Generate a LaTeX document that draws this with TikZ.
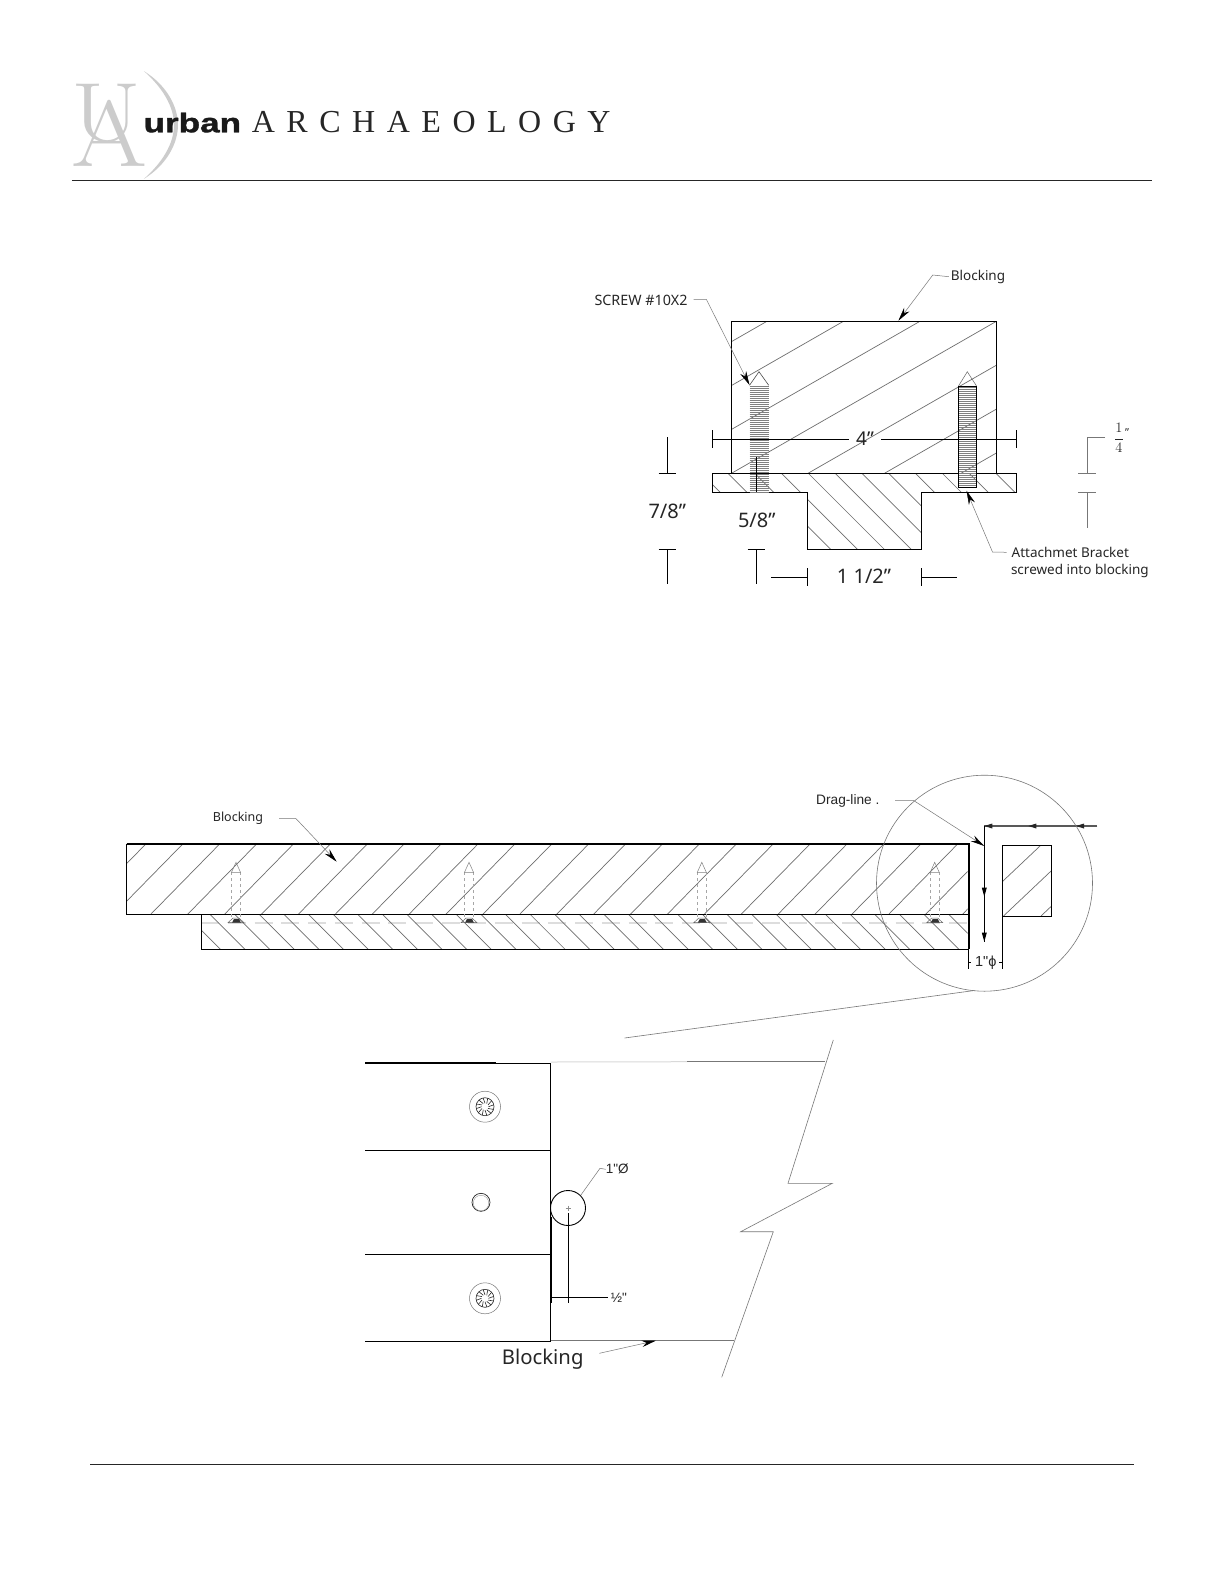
\documentclass[tikz,border=0pt]{standalone}
\usepackage{fontspec}
\setmainfont{Noto Sans}
\newfontfamily\serifface{Liberation Serif}
\newfontfamily\arialface{Liberation Sans}
\newfontfamily\logoface{Latin Modern Roman}
\usetikzlibrary{arrows.meta}
\definecolor{logogray}{HTML}{CCCCCC}
\definecolor{hatchgray}{HTML}{6E6E6E}
\definecolor{leadgray}{HTML}{777777}
\definecolor{dashgray}{HTML}{DDDDDD}
\tikzset{
  edge/.style={line width=0.9pt,black},
  thick edge/.style={line width=2pt,black},
  hatch/.style={line width=0.7pt,hatchgray},
  dim/.style={line width=0.8pt,black},
  leader/.style={line width=0.5pt,leadgray},
  thin gray/.style={line width=0.6pt,leadgray},
  tipleader/.style={leader,-{Stealth[length=14pt,width=6.5pt,color=black]}},
  label/.style={inner sep=0pt,outer sep=0pt,font=\fontsize{13.5}{16}\selectfont,text=black!85},
  bigdim/.style={inner sep=0pt,font=\fontsize{20}{22}\selectfont,text=black!85},
}
\begin{document}
\begin{tikzpicture}[x=1pt,y=-1pt]
\useasboundingbox (0,0) rectangle (1225,1585);
\fill[white] (0,0) rectangle (1225,1585);
% ---------- logo
\node[inner sep=0pt,anchor=base,xscale=1.2,text=logogray,font=\logoface\fontsize{84}{84}\selectfont] (logoU) at (106.7,141) {U};
\node[inner sep=0pt,anchor=base,xscale=1.17,text=logogray,font=\logoface\fontsize{93.7}{94}\selectfont] (logoA) at (109,166.7) {A};
\fill[logogray] (143.8,71) .. controls (168,86) and (178,108) .. (178,125) .. controls (178,142) and (168,164) .. (143.8,179)
  .. controls (163,162) and (174,143) .. (174,125) .. controls (174,107) and (163,88) .. cycle;
\node[inner sep=0pt,anchor=base west,xscale=1.3,font=\arialface\bfseries\fontsize{27}{27}\selectfont\addfontfeature{FakeBold=1.2},text=black!90] (urban) at (143.3,132.3) {urban};
\node[inner sep=0pt,anchor=base west,font=\serifface\fontsize{32}{32}\selectfont\addfontfeature{LetterSpace=36},text=black!85] (arch) at (251.7,132.7) {ARCHAEOLOGY};
\draw[line width=1pt,black!85] (71.8,180) coordinate (ruleA) -- (1152,180) coordinate (ruleB);
\draw[line width=1pt,black!85] (90,1464.5) coordinate (ruleC) -- (1134,1464.5) coordinate (ruleD);
% ---------- top section
\begin{scope}
 \clip (731.5,321.3) rectangle (996.4,473.3);
 \foreach \k in {-3,...,3} \draw[hatch] ({731.5+76.5*\k},473.3) -- ++(264.9,-152);
\end{scope}
\draw[edge] (731.5,473.3) -- (731.5,321.3) -- (996.4,321.3) -- (996.4,473.3);
\begin{scope}
 \clip (712.4,473.3) -- (1016.3,473.3) -- (1016.3,492.3) -- (921.4,492.3) -- (921.4,549.3) -- (807.3,549.3) -- (807.3,492.3) -- (712.4,492.3) -- cycle;
 \foreach \k in {-5,...,8} \draw[hatch] ({808.3+26.8*\k},473.3) -- ++(76,76);
\end{scope}
\draw[edge] (712.4,473.3) -- (1016.3,473.3) -- (1016.3,492.3) -- (921.4,492.3) -- (921.4,549.3) -- (807.3,549.3) -- (807.3,492.3) -- (712.4,492.3) -- cycle;
% screws top
\foreach \y in {386,388,...,492} \draw[line width=1pt,black!50] (749.5,\y) -- (768.7,\y);
\foreach \y in {387,389,...,486} \draw[line width=1pt,black!50] (958.5,\y) -- (976.5,\y);
\draw[line width=0.6pt,black!70] (749.5,385.3) -- (759,371.7) -- (768.7,385.3);
\draw[line width=0.5pt,black!60] (958.5,386) -- (967.3,371.7) -- (976.5,386);
\draw[line width=0.9pt,black] (958.5,386) rectangle (976.5,487.3);
% 4 inch dim
\node[bigdim,font=\fontsize{19}{22}\selectfont] (dimfour) at (865,439) {4"};
\coordinate (fourL) at (712.4,439.3);
\coordinate (fourR) at (1016.3,439.3);
\coordinate (fourGapL) at (848.7,439.3);
\coordinate (fourGapR) at (881.2,439.3);
\draw[dim] (fourL) -- (fourGapL);
\draw[dim] (fourGapR) -- (fourR);
\draw[dim] (712.4,430) -- (712.4,448);
\draw[dim] (1016.3,430) -- (1016.3,448);
% 7/8
\node[bigdim] (seven) at (667.3,511) {7/8"};
\draw[dim] (667.3,437.3) -- (667.3,473.3);
\draw[dim] (658.5,473.3) -- (676,473.3);
\draw[dim] (658.5,549.3) -- (676,549.3);
\draw[dim] (667.3,549.3) -- (667.3,584.3);
% 5/8
\node[bigdim] (five) at (756.8,520) {5/8"};
\draw[dim] (756.4,456.7) -- (756.4,492.3);
\draw[dim] (747.6,549.3) -- (765.2,549.3);
\draw[dim] (756.4,549.3) -- (756.4,584.3);
% 1 1/2
\node[bigdim] (onehalf) at (864,576.5) {1 1/2"};
\draw[dim] (807.3,568.3) -- (807.3,586);
\draw[dim] (771.3,577.3) -- (807.3,577.3);
\draw[dim] (921.4,568.3) -- (921.4,586);
\draw[dim] (921.4,577.3) -- (956.6,577.3);
% 1/4
\node[inner sep=0pt,text=black!85,font=\fontsize{15}{15}\selectfont] (quarter) at (1119,438) {$\displaystyle\frac{1}{4}$};
\node[inner sep=0pt,text=black!85,font=\fontsize{11}{11}\selectfont] (quartermark) at (1127,433) {"};
\draw[thin gray] (1105,437.3) -- (1087,437.3) -- (1087,473.3);
\draw[thin gray] (1078.3,473.3) -- (1095.9,473.3);
\draw[thin gray] (1078.3,492.3) -- (1095.9,492.3);
\draw[thin gray] (1087,492.3) -- (1087,527.7);
% labels top
\node[label,anchor=center] (blockTop) at (978,276.7) {Blocking};
\coordinate (blockTopTip) at (898.4,320.7);
\draw[tipleader] ([xshift=-2pt]blockTop.west) -- (932.8,275) -- (blockTopTip);
\node[label,anchor=east,font=\fontsize{14.3}{16}\selectfont] (screwlabel) at (687.5,300.7) {SCREW \#10X2};
\coordinate (screwTip) at (749.5,385);
\draw[tipleader] (693.7,299.3) -- (706.3,299.3) -- (screwTip);
\node[label,anchor=west] (attachA) at (1011.7,552.3) {Attachmet Bracket};
\node[label,anchor=west] (attachB) at (1011,570.7) {screwed into blocking};
\coordinate (attachTip) at (966.5,490.7);
\draw[tipleader] (attachA.west) ++(-5,0) -- (992.5,552) -- (attachTip);
% ---------- middle section
\begin{scope}
 \clip (126.7,843.7) rectangle (967.7,914.3);
 \foreach \k in {-3,...,22} \draw[hatch] ({150.7+36.9*\k},914.3) -- ++(70.6,-72);
\end{scope}
\draw[line width=2pt,dashgray,dash pattern=on 18pt off 8.7pt] (201.3,922.7) -- (967.7,922.7);
\begin{scope}
 \clip (201.3,914.3) rectangle (967.7,949.3);
 \foreach \k in {-1,...,31} \draw[hatch] ({210+24.62*\k},914.3) -- ++(36,36);
\end{scope}
\draw[edge] (126.7,843.7) -- (126.7,914.3) -- (967.7,914.3);
\draw[edge] (201.3,914.3) -- (201.3,949.3) -- (967.7,949.3);
\draw[thick edge] (126.7,843.7) -- (968.5,843.7) -- (968.5,949.3);
\foreach \sx in {236,469,701.8,934.7}{
 \draw[line width=0.6pt,black!35,dashed] (\sx-4.5,872.3) -- (\sx-4.5,920);
 \draw[line width=0.6pt,black!35,dashed] (\sx+4.5,872.3) -- (\sx+4.5,920);
 \draw[line width=0.5pt,black!50] (\sx-4.5,872.3) -- (\sx,862.3) -- (\sx+4.5,872.3) -- cycle;
 \draw[line width=0.5pt,black!60] (\sx-8,922.7) -- (\sx-3,918) -- (\sx+3,918) -- (\sx+8,922.7) -- cycle;
 \fill[black!80] (\sx-4,922.7) -- (\sx-2,919) -- (\sx+3,919) -- (\sx+5,922.7) -- cycle;
}
% small square
\begin{scope}
 \clip (1002.3,845.3) rectangle (1051.3,916);
 \foreach \k in {-1,0,1} \draw[hatch] ({1003.5+37.5*\k},916) -- ++(74,-70);
\end{scope}
\draw[edge] (1002.3,845.3) rectangle (1051.3,916);
% drag lines
\coordinate (hA) at (1097.3,826);
\coordinate (corner) at (984.3,826);
\coordinate (vEnd) at (984.3,941.7);
\draw[line width=1.5pt,black!65] (hA) -- (corner);
\draw[dim] (corner) -- (vEnd);
\foreach \ax in {1076,1028.3,984.3}
  \fill[black!85] (\ax,826) -- ++(8,-2.5) -- ++(0,5) -- cycle;
\foreach \ay in {896.7,941.7}
  \fill[black] (984.3,\ay) -- ++(-2.5,-9) -- ++(5,0) -- cycle;
\node[inner sep=0pt,anchor=west,text=black!85,font=\arialface\fontsize{13.7}{16}\selectfont] (dragline) at (816,801.3) {Drag-line .};
\coordinate (dragTip) at (984.3,846);
\draw[tipleader] (895,800.3) -- (913.3,800.3) -- (dragTip);
% 1 inch phi dim
\draw[dim,line width=0.7pt] (968.3,949.3) -- (968.3,968.7);
\draw[dim,line width=0.7pt] (1002.3,916) -- (1002.3,968.7);
\node[inner sep=0pt,text=black!85,font=\arialface\fontsize{14.5}{16}\selectfont] (onephi) at (985.7,962.3) {1"ϕ};
\draw[dim,line width=0.6pt] (968.3,962.3) -- (971,962.3);
\draw[dim,line width=0.6pt] (999,962.3) -- (1002.3,962.3);
% big circle
\node[draw=leadgray,line width=0.6pt,circle,minimum size=216pt,inner sep=0pt] (bigcircle) at (984.5,883.2) {};
\coordinate (zoomEnd) at (624.6,1038);
\draw[thin gray] (974.3,990.5) -- (zoomEnd);
% blocking label middle
\node[label,anchor=center,font=\fontsize{12.5}{16}\selectfont] (blockMid) at (238,818) {Blocking};
\coordinate (blockMidTip) at (336.7,861.7);
\draw[tipleader] (279,818.3) -- (295.7,818.3) -- (blockMidTip);
% ---------- bottom section
\draw[line width=1.2pt,black] (365,1063) -- (495.7,1063);
\draw[edge] (495.7,1063) -- (550.7,1063);
\draw[line width=1pt,black!15] (550.7,1062) -- (687,1061.7);
\draw[thin gray] (687,1061.7) -- (825,1061.7);
\draw[edge] (365,1150.3) -- (550.7,1150.3);
\draw[edge] (365,1254.3) -- (550.7,1254.3);
\draw[line width=1.5pt,black] (365,1341.7) -- (512,1341.7);
\draw[edge] (512,1341.7) -- (550.7,1341.7);
\draw[edge] (550.7,1063) -- (550.7,1341.7);
\draw[thick edge] (551.3,1216.7) -- (551.3,1303.3);
\draw[thin gray] (550.7,1340.5) -- (734.3,1340.5);
\draw[thin gray] (833.3,1040) -- (788,1183.3) -- (832.3,1183.3) -- (740.7,1231.7) -- (773.3,1231.7) -- (721.7,1377.3);
\foreach \sy/\nm in {1106.7/one,1298.3/two}{
 \node[draw=leadgray,line width=0.5pt,circle,minimum size=31pt,inner sep=0pt] (head\nm) at (485,\sy) {};
 \node[draw=black!85,line width=0.6pt,circle,minimum size=18pt,inner sep=0pt] (rose\nm) at (485,\sy) {};
 \foreach \a in {0,30,...,330} \draw[line width=0.6pt,black!85] (485,\sy) ++(\a:3.5pt) -- ++(\a+20:5.5pt);
}
\node[draw=black!85,line width=0.7pt,circle,minimum size=18pt,inner sep=0pt] (holeOuter) at (481,1202.3) {};
\node[draw=black!40,line width=0.4pt,circle,minimum size=15.5pt,inner sep=0pt] (holeInner) at (481,1203) {};
\node[draw=black,line width=0.9pt,circle,minimum size=35pt,inner sep=0pt] (pin) at (568,1208) {};
\draw[line width=0.3pt,black!45] (565.5,1208) -- (570.5,1208) (568,1205.5) -- (568,1210.5);
\draw[dim] (568,1213) -- (568,1303.3);
\draw[dim] (551.3,1297.3) -- (608.3,1297.3);
\node[inner sep=0pt,anchor=west,text=black!85,font=\arialface\fontsize{13.5}{16}\selectfont] (halfmark) at (610.7,1297.7) {½"};
\node[inner sep=0pt,anchor=west,text=black!85,font=\arialface\fontsize{13.5}{16}\selectfont] (pinlabel) at (605.7,1169.3) {1"Ø};
\draw[leader] (pin.45) -- (600,1168.3) -- (pinlabel.west);
\node[inner sep=0pt,text=black!85,font=\fontsize{20.3}{26}\selectfont] (blockBot) at (542.7,1359) {Blocking};
\coordinate (blockBotTip) at (655.7,1340.7);
\draw[tipleader] (599.3,1353.3) -- (blockBotTip);
\end{tikzpicture}
\end{document}
